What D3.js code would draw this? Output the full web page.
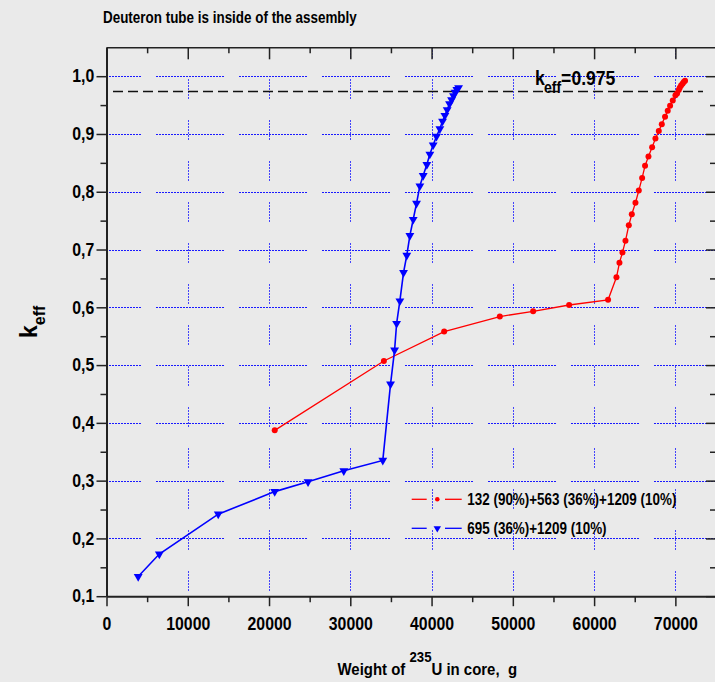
<!DOCTYPE html>
<html>
<head>
<meta charset="utf-8">
<script src="https://cdnjs.cloudflare.com/ajax/libs/d3/7.8.5/d3.min.js"></script>
<style>
  html, body { margin: 0; padding: 0; background: #eaeaea; }
  svg { display: block; }
  text { font-family: "Liberation Sans", Arial, sans-serif; font-weight: bold; fill: #000; }
</style>
</head>
<body>
<div id="chart"></div>
<script>
// keff vs weight of U-235 in core, two loading schemes.

const xTicks = [0, 10000, 20000, 30000, 40000, 50000, 60000, 70000];
const xMinor = [5000, 15000, 25000, 35000, 45000, 55000, 65000, 75000];
const yTicks = [0.1, 0.2, 0.3, 0.4, 0.5, 0.6, 0.7, 0.8, 0.9, 1.0];
const yMinor = [0.15, 0.25, 0.35, 0.45, 0.55, 0.65, 0.75, 0.85, 0.95];

// 695 (36%) + 1209 (10%)
const blueWeight = [3900, 6500, 13750, 20700, 24800, 29200, 34000, 34950, 35450, 35700,
  36100, 36550, 36950, 37330, 37740, 38150, 38560, 38970, 39420, 39790,
  40200, 40610, 41020, 41350, 41640, 41920, 42210, 42460, 42700, 42900, 43110, 43320];
const blueKeff = [0.134, 0.173, 0.242, 0.281, 0.298, 0.317, 0.335, 0.467, 0.526, 0.572,
  0.611, 0.660, 0.690, 0.724, 0.752, 0.780, 0.810, 0.828, 0.847, 0.865,
  0.881, 0.896, 0.909, 0.922, 0.932, 0.942, 0.952, 0.959, 0.966, 0.972, 0.977, 0.980];

// 132 (90%) + 563 (36%) + 1209 (10%)
const redWeight = [20700, 34130, 41550, 48400, 52500, 56930, 61720, 62750, 63120, 63490,
  63860, 64270, 64640, 65090, 65500, 65910, 66270, 66690, 67140, 67550,
  67960, 68330, 68730, 69060, 69350, 69680, 70010, 70210, 70420, 70540,
  70700, 70880, 71030, 71190];
const redKeff = [0.387, 0.507, 0.558, 0.584, 0.593, 0.604, 0.613, 0.652, 0.677, 0.695,
  0.715, 0.742, 0.761, 0.781, 0.802, 0.824, 0.845, 0.861, 0.877, 0.892,
  0.905, 0.917, 0.930, 0.940, 0.949, 0.958, 0.967, 0.970, 0.976, 0.980,
  0.984, 0.987, 0.990, 0.992];

const keffLimit = 0.975;
const limitRange = [800, 73400];
const legendLabels = ['132 (90%)+563 (36%)+1209 (10%)', '695 (36%)+1209 (10%)'];

const W = 715, H = 682;
const RED = '#ff0000', BLUE = '#0000ff', GRID = '#1a1aff';
const SX = 0.88; // text in the original is horizontally squeezed

const svg = d3.select('#chart').append('svg').attr('width', W).attr('height', H);
svg.append('rect').attr('width', W).attr('height', H).attr('fill', '#eaeaea');

const x = d3.scaleLinear().domain([0, 75000]).range([106.5, 716]);
const y = d3.scaleLinear().domain([0.1, 1.05]).range([596.2, 47.3]);

// snap to pixel centres so the thin dotted grid stays crisp
const px = (v) => Math.round(v) + 0.5;

// dotted dash pattern: n dots then a gap
function dots(n, gap) {
  const a = [];
  for (let i = 0; i < n - 1; i++) a.push(2, 1);
  a.push(2, gap);
  return a.join(' ');
}

// gridlines
const grid = svg.append('g').attr('class', 'grid').attr('shape-rendering', 'crispEdges');
grid.selectAll('line.h')
  .data(yTicks.filter((d) => d > 0.1))
  .join('line')
  .attr('x1', Math.round(x(0))).attr('x2', Math.round(x(75000)))
  .attr('y1', (d) => px(y(d))).attr('y2', (d) => px(y(d)))
  .attr('stroke', GRID).attr('stroke-width', 1)
  .attr('stroke-dasharray', dots(23, 15))
  .attr('stroke-dashoffset', 34);

grid.selectAll('line.v')
  .data(xTicks.filter((d) => d > 0))
  .join('line')
  .attr('x1', (d) => px(x(d))).attr('x2', (d) => px(x(d)))
  .attr('y1', Math.round(y(0.1))).attr('y2', Math.round(y(1.05)))
  .attr('stroke', GRID).attr('stroke-width', 1).attr('stroke-opacity', 0.8)
  .attr('stroke-dasharray', dots(7, 21))
  .attr('stroke-dashoffset', 36);

// axes
function styleAxis(g, width) {
  g.select('.domain').attr('stroke', '#222').attr('stroke-width', width);
  g.selectAll('.tick line').attr('stroke', '#222').attr('stroke-width', 1.5);
}

const gx = svg.append('g').attr('transform', `translate(0,${y(0.1)})`)
  .call(d3.axisBottom(x).tickValues(xTicks).tickSize(10).tickSizeOuter(0).tickPadding(11).tickFormat(d3.format('d')));
gx.call(styleAxis, 2);
gx.selectAll('.tick text').attr('font-size', 18).attr('transform', `scale(${SX},1)`)
  .style('font-family', '"Liberation Sans", Arial, sans-serif').style('font-weight', 'bold');
svg.append('g').attr('transform', `translate(0,${y(0.1)})`)
  .call(d3.axisBottom(x).tickValues(xMinor).tickSize(6).tickFormat(''))
  .call((g) => g.select('.domain').remove())
  .call(styleAxis, 0);

const gy = svg.append('g').attr('transform', `translate(${x(0)},0)`)
  .call(d3.axisLeft(y).tickValues(yTicks).tickSize(10).tickSizeOuter(0).tickPadding(4)
    .tickFormat((d) => d.toFixed(1).replace('.', ',')));
gy.call(styleAxis, 2);
gy.selectAll('.tick text').attr('font-size', 18).attr('transform', `scale(${SX},1)`)
  .style('font-family', '"Liberation Sans", Arial, sans-serif').style('font-weight', 'bold');
svg.append('g').attr('transform', `translate(${x(0)},0)`)
  .call(d3.axisLeft(y).tickValues(yMinor).tickSize(6).tickFormat(''))
  .call((g) => g.select('.domain').remove())
  .call(styleAxis, 0);

svg.append('g').attr('transform', `translate(0,${y(1.05)})`)
  .call(d3.axisTop(x).tickValues(xTicks).tickSize(-12).tickSizeOuter(0).tickFormat(''))
  .call(styleAxis, 1.5);
svg.append('g').attr('transform', `translate(0,${y(1.05)})`)
  .call(d3.axisTop(x).tickValues(xMinor).tickSize(-6).tickFormat(''))
  .call((g) => g.select('.domain').remove())
  .call(styleAxis, 0);

svg.append('g').attr('transform', `translate(${x(75000)},0)`)
  .call(d3.axisRight(y).tickValues(yTicks).tickSize(-10).tickSizeOuter(0).tickFormat(''))
  .call(styleAxis, 2);
svg.append('g').attr('transform', `translate(${x(75000)},0)`)
  .call(d3.axisRight(y).tickValues(yMinor).tickSize(-6).tickFormat(''))
  .call((g) => g.select('.domain').remove())
  .call(styleAxis, 0);

// keff = 0.975 line
svg.append('line')
  .attr('x1', x(limitRange[0])).attr('x2', x(limitRange[1]))
  .attr('y1', px(y(keffLimit))).attr('y2', px(y(keffLimit)))
  .attr('stroke', '#111').attr('stroke-width', 1.3).attr('stroke-dasharray', '10 5');

// series
const line = d3.line().x((d) => x(d[0])).y((d) => y(d[1]));
const redPts = d3.zip(redWeight, redKeff);
const bluePts = d3.zip(blueWeight, blueKeff);
const triDown = d3.symbol().type(d3.symbolTriangle).size(34);

svg.append('path').datum(redPts).attr('d', line)
  .attr('fill', 'none').attr('stroke', RED).attr('stroke-width', 1.3);
svg.append('g').selectAll('circle').data(redPts).join('circle')
  .attr('cx', (d) => x(d[0])).attr('cy', (d) => y(d[1])).attr('r', 3).attr('fill', RED);

svg.append('path').datum(bluePts).attr('d', line)
  .attr('fill', 'none').attr('stroke', BLUE).attr('stroke-width', 1.6);
svg.append('g').selectAll('path').data(bluePts).join('path')
  .attr('d', triDown)
  .attr('transform', (d) => `translate(${x(d[0])},${y(d[1])}) rotate(180)`)
  .attr('fill', BLUE);

// keff = 0.975 label
const lbl = svg.append('text').attr('transform', `translate(535,85) scale(${SX},1)`);
lbl.append('tspan').attr('font-size', 20).text('k');
lbl.append('tspan').attr('font-size', 16).attr('dy', 8).attr('dx', -1).text('eff');
lbl.append('tspan').attr('font-size', 20).attr('dy', -8).text('=0.975');

// legend
const legend = svg.append('g');
const legendRows = [
  { color: RED, marker: 'circle', y: 499.3, label: legendLabels[0] },
  { color: BLUE, marker: 'tri', y: 528.3, label: legendLabels[1] },
];
legendRows.forEach((r) => {
  const g = legend.append('g').attr('transform', `translate(0,${r.y})`);
  g.append('line').attr('x1', 411.7).attr('x2', 426.7).attr('stroke', r.color).attr('stroke-width', 1.3);
  g.append('line').attr('x1', 445).attr('x2', 461.7).attr('stroke', r.color).attr('stroke-width', 1.3);
  if (r.marker === 'circle') {
    g.append('circle').attr('cx', 437.3).attr('r', 2.3).attr('fill', r.color);
  } else {
    g.append('path').attr('d', d3.symbol().type(d3.symbolTriangle).size(24))
      .attr('transform', 'translate(437.3,0) rotate(180)').attr('fill', r.color);
  }
  g.append('text').attr('transform', `translate(467.3,5.5) scale(0.84,1)`)
    .attr('font-size', 16).text(r.label);
});

// titles
svg.append('text').attr('transform', `translate(103,23) scale(0.84,1)`)
  .attr('font-size', 16).text('Deuteron tube is inside of the assembly');

const xt = svg.append('text').attr('transform', `translate(337.5,675) scale(${SX},1)`)
  .style('white-space', 'pre');
xt.append('tspan').attr('font-size', 17).text('Weight of ');
xt.append('tspan').attr('font-size', 15).attr('dy', -13).text('235');
xt.append('tspan').attr('font-size', 17).attr('dy', 13).text('U in core,  g');

const yt = svg.append('text').attr('transform', 'translate(37,338) rotate(-90)');
yt.append('tspan').attr('font-size', 23).text('k');
yt.append('tspan').attr('font-size', 16).attr('dy', 8).text('eff');
</script>
</body>
</html>
